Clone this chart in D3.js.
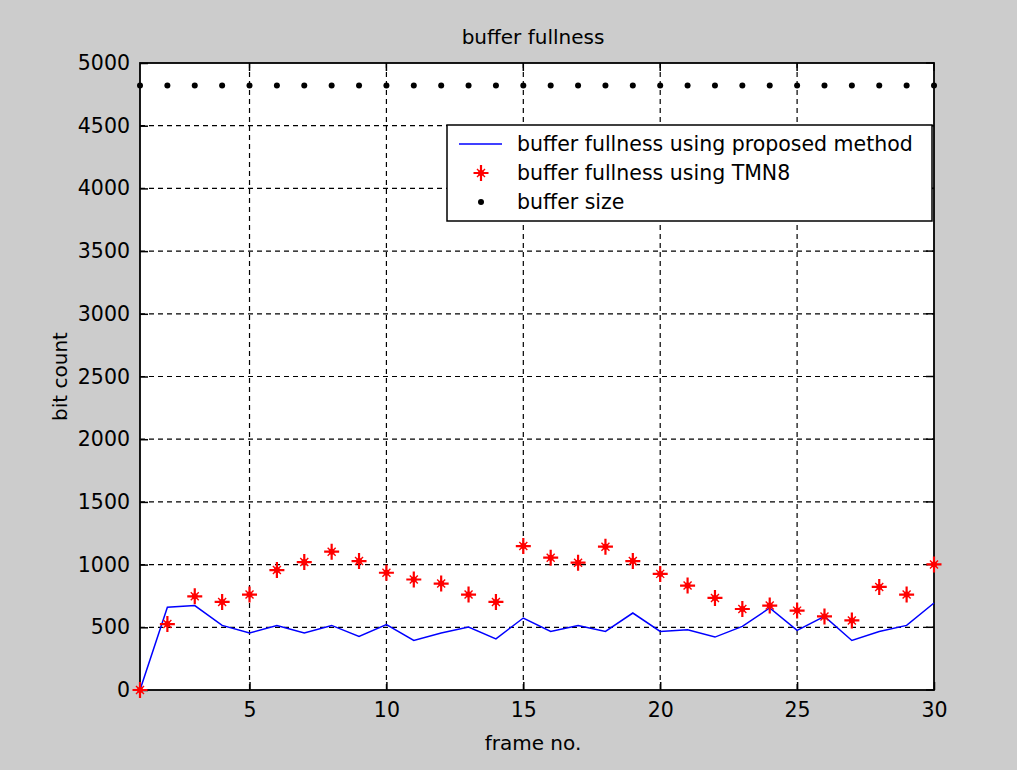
<!DOCTYPE html>
<html>
<head>
<meta charset="utf-8">
<script src="https://cdn.jsdelivr.net/npm/d3@7"></script>
<style>
  html, body { margin: 0; padding: 0; background: #cccccc; }
  svg { display: block; }
  text { font-family: "DejaVu Sans", sans-serif; fill: #000; }
</style>
</head>
<body>
<svg id="chart" width="1017" height="770"></svg>
<script>
// Frame numbers 1..30
const frames = d3.range(1, 31);

// Buffer fullness with the proposed rate control (bits)
const proposed = [0, 660, 673, 515, 454, 515, 454, 515, 427, 521,
                  395, 454, 502, 408, 574, 467, 515, 467, 614, 467,
                  480, 422, 507, 654, 475, 587, 395, 467, 515, 694];

// Buffer fullness with TMN8 (bits)
const tmn8 = [0, 526, 747, 702, 761, 956, 1020, 1103, 1028, 935,
              881, 849, 761, 702, 1148, 1055, 1015, 1143, 1028, 926,
              833, 734, 646, 673, 633, 587, 555, 822, 761, 1001];

// Buffer size (bits)
const bufferSize = frames.map(() => 4820);

const xTicks = [5, 10, 15, 20, 25, 30];
const yTicks = d3.range(0, 5001, 500);

const legendLabels = [
  "buffer fullness using proposed method",
  "buffer fullness using TMN8",
  "buffer size"
];

const svg = d3.select("#chart");
const pL = 140, pR = 934, pT = 63, pB = 690;

const x = d3.scaleLinear().domain([1, 30]).range([pL, pR]);
const y = d3.scaleLinear().domain([0, 5000]).range([pB, pT]);

// plot area
svg.append("rect")
  .attr("x", pL).attr("y", pT)
  .attr("width", pR - pL).attr("height", pB - pT)
  .attr("fill", "#fff");

// dashed grid
const grid = svg.append("g").attr("stroke", "#000").attr("stroke-width", 1.2)
  .attr("stroke-dasharray", "5,4");
grid.selectAll("line.gx").data(xTicks.filter(d => d < 30)).join("line")
  .attr("x1", d => x(d)).attr("x2", d => x(d))
  .attr("y1", pT).attr("y2", pB);
grid.selectAll("line.gy").data(yTicks.filter(d => d > 0 && d < 5000)).join("line")
  .attr("y1", d => y(d)).attr("y2", d => y(d))
  .attr("x1", pL).attr("x2", pR);

// axes with inward ticks
const xAxis = d3.axisBottom(x).tickValues(xTicks).tickFormat(d3.format("d"))
  .tickSizeInner(-8).tickSizeOuter(0);
const yAxis = d3.axisLeft(y).tickValues(yTicks).tickFormat(d3.format("d"))
  .tickSizeInner(-8).tickSizeOuter(0);

const gx = svg.append("g").attr("transform", `translate(0,${pB})`).call(xAxis);
const gy = svg.append("g").attr("transform", `translate(${pL},0)`).call(yAxis);
[gx, gy].forEach(g => {
  g.select(".domain").remove();
  g.selectAll("line").attr("stroke", "#000").attr("stroke-width", 1.5);
  g.selectAll("text").style("font-family", "DejaVu Sans, sans-serif")
    .style("font-size", "20.5px").attr("fill", "#000");
});
gy.selectAll("text").attr("x", -10);
gx.selectAll("text").attr("dy", "0.71em").attr("y", 12);

// top and right ticks
const ticksTR = svg.append("g").attr("stroke", "#000").attr("stroke-width", 1.5);
ticksTR.selectAll("line.tt").data(xTicks).join("line")
  .attr("x1", d => x(d)).attr("x2", d => x(d)).attr("y1", pT).attr("y2", pT + 8);
ticksTR.selectAll("line.tr").data(yTicks).join("line")
  .attr("y1", d => y(d)).attr("y2", d => y(d)).attr("x1", pR).attr("x2", pR - 8);

// frame
svg.append("rect")
  .attr("x", pL).attr("y", pT)
  .attr("width", pR - pL).attr("height", pB - pT)
  .attr("fill", "none").attr("stroke", "#000").attr("stroke-width", 1.8);

// proposed method line
svg.append("path")
  .datum(frames.map((f, i) => [f, proposed[i]]))
  .attr("fill", "none").attr("stroke", "#0000ff").attr("stroke-width", 1.5)
  .attr("d", d3.line().x(d => x(d[0])).y(d => y(d[1])));

// asterisk marker
const plusPath = "M-7.5,0H7.5M0,-8V8";
const crossPath = "M-4,-4L4,4M-4,4L4,-4";
function star(g) {
  g.append("path").attr("d", plusPath).attr("stroke", "#ff0000")
    .attr("stroke-width", 2.2).attr("fill", "none");
  g.append("path").attr("d", crossPath).attr("stroke", "#ff0000")
    .attr("stroke-width", 1.4).attr("fill", "none");
  g.append("circle").attr("r", 3).attr("fill", "#ff0000");
}

// TMN8 markers
svg.append("g").selectAll("g").data(frames.map((f, i) => [f, tmn8[i]])).join("g")
  .attr("transform", d => `translate(${x(d[0])},${y(d[1])})`)
  .each(function () { star(d3.select(this)); });

// buffer size dots
svg.append("g").selectAll("circle").data(frames.map((f, i) => [f, bufferSize[i]])).join("circle")
  .attr("cx", d => x(d[0])).attr("cy", d => y(d[1])).attr("r", 3).attr("fill", "#000");

// legend
const lg = svg.append("g");
lg.append("rect").attr("x", 447).attr("y", 125).attr("width", 485).attr("height", 96)
  .attr("fill", "#fff").attr("stroke", "#000").attr("stroke-width", 1.5);
const rowY = [144, 173, 202];
lg.append("line").attr("x1", 459).attr("x2", 502).attr("y1", rowY[0]).attr("y2", rowY[0])
  .attr("stroke", "#0000ff").attr("stroke-width", 1.5);
const ls = lg.append("g").attr("transform", `translate(481,${rowY[1]})`);
star(ls);
lg.append("circle").attr("cx", 481).attr("cy", rowY[2]).attr("r", 3).attr("fill", "#000");
lg.selectAll("text").data(legendLabels).join("text")
  .attr("x", 517).attr("y", (d, i) => rowY[i] + 7)
  .style("font-size", "20.5px").text(d => d);

// titles
svg.append("text").attr("x", (pL + pR) / 2 - 4).attr("y", 44)
  .attr("text-anchor", "middle").style("font-size", "20px").text("buffer fullness");
svg.append("text").attr("x", (pL + pR) / 2 - 4).attr("y", 750)
  .attr("text-anchor", "middle").style("font-size", "20px").text("frame no.");
svg.append("text").attr("transform", `translate(67,${(pT + pB) / 2}) rotate(-90)`)
  .attr("text-anchor", "middle").style("font-size", "20px").text("bit count");
</script>
</body>
</html>
